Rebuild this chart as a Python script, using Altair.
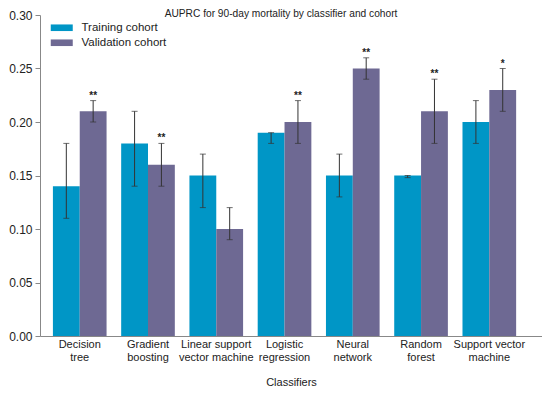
import altair as alt
import pandas as pd

classifiers = ["Decision tree", "Gradient boosting", "Linear support vector machine",
               "Logistic regression", "Neural network", "Random forest",
               "Support vector machine"]
label_lines = [["Decision", "tree"], ["Gradient", "boosting"],
               ["Linear support", "vector machine"], ["Logistic", "regression"],
               ["Neural", "network"], ["Random", "forest"], ["Support vector", "machine"]]
cohorts = ["Training cohort", "Validation cohort"]

train_vals = [0.14, 0.18, 0.15, 0.19, 0.15, 0.15, 0.20]
train_low = [0.11, 0.14, 0.12, 0.18, 0.13, 0.148, 0.18]
train_high = [0.18, 0.21, 0.17, 0.19, 0.17, 0.15, 0.22]
valid_vals = [0.21, 0.16, 0.10, 0.20, 0.25, 0.21, 0.23]
valid_low = [0.20, 0.14, 0.09, 0.18, 0.24, 0.18, 0.21]
valid_high = [0.22, 0.18, 0.12, 0.22, 0.26, 0.24, 0.25]
valid_sig = ["**", "**", "", "**", "**", "**", "*"]

rows = []
for i, c in enumerate(classifiers):
    rows.append(dict(classifier=c, cohort=cohorts[0], value=train_vals[i],
                     low=train_low[i], high=train_high[i], sig=""))
    rows.append(dict(classifier=c, cohort=cohorts[1], value=valid_vals[i],
                     low=valid_low[i], high=valid_high[i], sig=valid_sig[i]))
df = pd.DataFrame(rows)

FONT = "Liberation Sans"
label_map = "{" + ", ".join(
    "'%s': ['%s', '%s']" % (c, l[0], l[1]) for c, l in zip(classifiers, label_lines)) + "}"

x = alt.X("classifier:N", sort=classifiers,
          scale=alt.Scale(paddingInner=0.214, paddingOuter=0.284, align=0.333),
          axis=alt.Axis(title="Classifiers", labelAngle=0, labelExpr=label_map + "[datum.label]",
                        ticks=False, domainColor="#888888", labelFontSize=11,
                        labelFont=FONT, labelColor="#222222", labelPadding=2,
                        titleFont=FONT, titleFontSize=11, titleFontWeight="normal",
                        titleColor="#222222", titlePadding=14))
xo = alt.XOffset("cohort:N", sort=cohorts)

base = alt.Chart(df)

bars = base.mark_bar().encode(
    x=x, xOffset=xo,
    y=alt.Y("value:Q", scale=alt.Scale(domain=[0, 0.3]),
            axis=alt.Axis(title=None, values=[0, 0.05, 0.1, 0.15, 0.2, 0.25, 0.3],
                          format=".2f", grid=False, domainColor="#888888",
                          tickColor="#888888", tickSize=5, labelFont=FONT,
                          labelFontSize=12, labelColor="#222222", labelPadding=3)),
    color=alt.Color("cohort:N", sort=cohorts,
                    scale=alt.Scale(domain=cohorts, range=["#0096c6", "#6e6993"]),
                    legend=alt.Legend(title=None, orient="none", legendX=11, legendY=7,
                                      symbolType="M-2,-0.6H2V0.6H-2Z", symbolSize=121,
                                      symbolStrokeWidth=0, symbolOffset=5,
                                      labelFont=FONT, labelFontSize=11.5,
                                      labelColor="#222222", labelOffset=14,
                                      rowPadding=2)),
)

rules = base.mark_rule(color="#333333", strokeWidth=1).encode(
    x=x, xOffset=xo, y="low:Q", y2="high:Q")
caps_hi = base.mark_tick(color="#333333", thickness=1, size=6).encode(
    x=x, xOffset=xo, y="high:Q")
caps_lo = base.mark_tick(color="#333333", thickness=1, size=6).encode(
    x=x, xOffset=xo, y="low:Q")
stars = base.mark_text(font=FONT, fontSize=10, fontWeight="bold", color="#222222",
                       baseline="bottom", dy=0).encode(
    x=x, xOffset=xo, y="high:Q", text="sig:N")

chart = alt.layer(bars, rules, caps_hi, caps_lo, stars).properties(
    width=534, height=380,
    autosize=alt.AutoSizeParams(type="fit", contains="padding"),
    title=alt.TitleParams("AUPRC for 90-day mortality by classifier and cohort",
                          font=FONT, fontSize=10.2, fontWeight="normal", color="#222222",
                          anchor="middle", offset=-10, dx=-10),
    padding={"left": 0, "top": 0, "right": 0, "bottom": 1},
).configure_view(stroke=None)

chart.save("out.html", embed_options={"renderer": "svg", "actions": False})
